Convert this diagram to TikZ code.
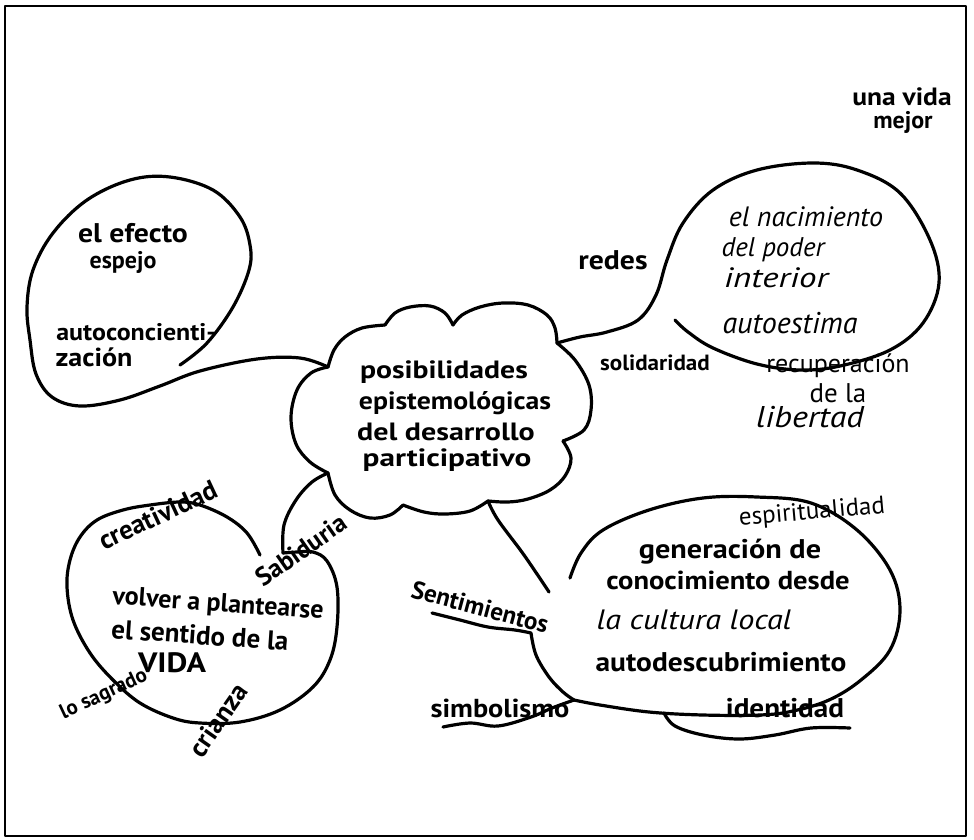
\documentclass[tikz,border=0pt]{standalone}
\usepackage{fontspec}
\setmainfont{PT Sans}
\newcommand{\fs}[1]{\fontsize{#1}{#1}\selectfont}
\begin{document}
\begin{tikzpicture}[x=1pt,y=-1pt,line cap=round,line join=round,
  outl/.style={line width=3.2pt},
  hw/.style={inner sep=0pt,font=\fs{25}\bfseries},
  hwr/.style={inner sep=0pt,font=\fs{25}},
  hwi/.style={inner sep=0pt,font=\fs{28}\itshape}]
\useasboundingbox (0,0) rectangle (974,839);
\draw[line width=1.5pt] (5,6) rectangle (966,836);

% junction coordinates
\coordinate (cL) at (328,367);
\coordinate (cTR) at (557,343);
\coordinate (cLL) at (328,473);
\coordinate (cB) at (488,501);

% ---- cloud ----
\draw[outl] plot[smooth,tension=0.6] coordinates {(cL) (334,350) (345,337) (362,328) (385,325)};
\draw[outl] plot[smooth,tension=0.6] coordinates {(385,325) (395,313) (410,307) (430,306) (445,313) (453,325)};
\draw[outl] plot[smooth,tension=0.6] coordinates {(453,325) (462,315) (480,307) (503,303) (528,305) (547,315) (555,328) (cTR)};
\draw[outl] plot[smooth,tension=0.6] coordinates {(cTR) (575,360) (589,385) (591,410) (584,430) (563,441)};
\draw[outl] plot[smooth,tension=0.6] coordinates {(563,441) (571,458) (565,476) (550,490) (528,499) (508,502) (cB)};
\draw[outl] plot[smooth,tension=0.6] coordinates {(cB) (470,511) (445,514) (424,512) (403,505)};
\draw[outl] plot[smooth,tension=0.6] coordinates {(403,505) (390,515) (370,518) (350,510) (335,495) (cLL)};
\draw[outl] plot[smooth,tension=0.6] coordinates {(cLL) (310,462) (296,444) (291,417) (297,390) (311,373) (cL)};
\node[hw,xscale=1.19] (t1) at (444,372) {posibilidades};
\node[hw,xscale=1.11] (t2) at (455,403) {epistemológicas};
\node[hw,xscale=1.2] (t3) at (446,432) {del desarrollo};
\node[hw,xscale=1.25] (t4) at (447,460) {participativo};

% ---- top-left bubble ----
\draw[outl] plot[smooth,tension=0.6] coordinates {(180,365) (207,343) (233,307) (249,270) (250,245) (240,217) (213,190) (170,177) (130,180) (87,200) (53,233) (33,270) (27,307) (30,340) (36,374) (52,397) (80,406) (120,400) (160,386) (200,371) (257,359) (300,358) (cL)};
\node[hw,font=\fs{27}\bfseries,xscale=1.1] (e1) at (133,233) {el efecto};
\node[hw,font=\fs{24}\bfseries] (e2) at (123,262) {espejo};
\node[hw,font=\fs{24}\bfseries,xscale=1.08] (e3) at (136,332) {autoconcienti-};
\node[hw,font=\fs{26}\bfseries,xscale=1.08] (e4) at (94,357) {zación};

% ---- top-right bubble ----
\draw[outl] plot[smooth,tension=0.6] coordinates {(cTR) (580,337) (607,332) (638,320) (656,295) (667,260) (683,223) (713,190) (757,170) (813,163) (857,170) (900,193) (930,240) (939,283) (923,323) (890,350) (840,366) (800,370) (757,364) (713,348) (688,332) (675,320)};
\node[hw,font=\fs{27}\bfseries,xscale=1.1] (redes) at (613,260) {redes};
\node[hwi] (n1) at (806,217) {el nacimiento};
\node[hwi,font=\fs{27}\itshape] (n2) at (773,250) {del poder};
\node[hwi,font=\fs{28}\itshape,xscale=1.25] (n3) at (776,278) {interior};
\node[hwi,font=\fs{30}\itshape] (n4) at (790,323) {autoestima};
\node[hw,font=\fs{22}\bfseries,xscale=1.05] (sol) at (655,363) {solidaridad};
\node[hwr,font=\fs{26}] (rec) at (838,366) {recuperación};
\node[hwr,font=\fs{27}] (dela) at (838,393) {de la};
\node[hwi,font=\fs{30}\itshape,xscale=1.14] (lib) at (810,417) {libertad};

% ---- una vida mejor ----
\node[hw,xscale=1.1] (v1) at (902,97) {una vida};
\node[hw,font=\fs{24}\bfseries] (v2) at (903,122) {mejor};

% ---- bottom-left bubble ----
\draw[outl] plot[smooth,tension=0.6] coordinates {(260,555) (247,533) (227,517) (200,505) (180,502) (150,505) (123,510) (97,520) (80,537) (70,560) (67,587) (73,620) (90,653) (113,680) (140,703) (173,718) (200,723) (240,722) (280,710) (313,687) (330,660) (337,627) (337,587) (327,561) (313,552) (297,552) (283,553)};
\draw[outl] plot[smooth,tension=0.6] coordinates {(283,553) (284,525) (296,500) (312,482) (cLL)};
\node[hw,rotate=25,font=\fs{27}\bfseries] (cre) at (158,515) {creatividad};
\node[hw,rotate=35,font=\fs{26}\bfseries] (sab) at (301,550) {Sabiduria};
\node[hw,rotate=-4,font=\fs{26}\bfseries] (b1) at (218,605) {volver a plantearse};
\node[hw,rotate=-4,font=\fs{27}\bfseries] (b2) at (200,635) {el sentido de la};
\node[hw,font=\fs{28}\bfseries,xscale=1.15] (b3) at (172,663) {VIDA};
\node[hw,rotate=25,font=\fs{21}\bfseries] (sag) at (104,695) {lo sagrado};
\node[hw,rotate=55,font=\fs{27}\bfseries] (cri) at (218,720) {crianza};

% ---- bottom-right bubble ----
\draw[outl] plot[smooth,tension=0.6] coordinates {(cB) (498,520) (524,555) (549,592)};
\coordinate (jS) at (531,633);
\coordinate (jB) at (574,700);
\draw[outl] plot[smooth,tension=0.6] coordinates {(570,578) (581,553) (603,530) (649,510) (703,498) (757,497) (811,503) (857,530) (890,570) (900,610) (890,650) (861,680) (829,700) (793,711) (760,715) (703,715) (649,712) (600,705) (jB)};
\draw[outl] plot[smooth,tension=0.6] coordinates {(jS) (536,655) (549,677) (563,692) (jB)};
\draw[outl] plot[smooth,tension=0.6] coordinates {(432,613) (460,620) (488,627) (515,630) (jS)};
\draw[outl] plot[smooth,tension=0.6] coordinates {(443,727) (470,723) (498,726) (531,717) (552,708) (jB)};
\draw[outl] plot[smooth,tension=0.6] coordinates {(664,713) (675,726) (703,735) (739,739) (775,735) (811,728) (850,728)};
\node[hw,font=\fs{27}\bfseries,xscale=1.12] (g1) at (730,552) {generación de};
\node[hw,font=\fs{26}\bfseries,xscale=1.1] (g2) at (728,580) {conocimiento desde};
\node[hwi,xscale=1.15] (g3) at (694,620) {la cultura local};
\node[hw,font=\fs{27}\bfseries,xscale=1.09] (g4) at (721,662) {autodescubrimiento};
\node[hw,font=\fs{27}\bfseries,xscale=1.08] (ide) at (785,708) {identidad};
\node[hwr,rotate=5] (esp) at (812,513) {espiritualidad};
\node[hw,rotate=-15,font=\fs{25}\bfseries] (sen) at (480,607) {Sentimientos};
\node[hw,font=\fs{26}\bfseries,xscale=1.09] (sim) at (500,708) {simbolismo};
\end{tikzpicture}
\end{document}
